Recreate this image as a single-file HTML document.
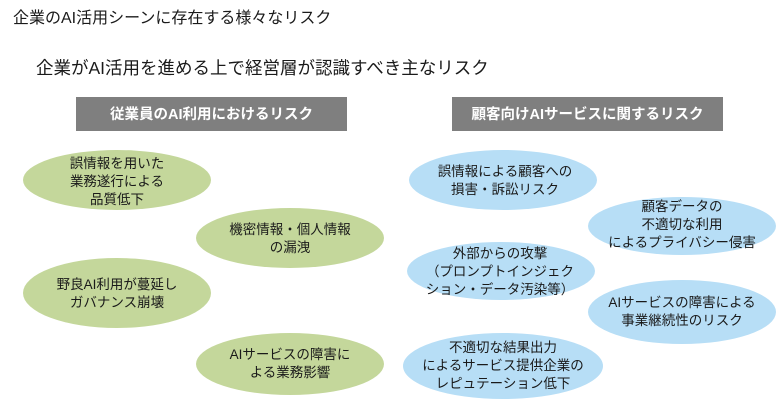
<!DOCTYPE html>
<html><head><meta charset="utf-8"><style>
body{margin:0;background:#fff;}
svg text{font-family:"Liberation Sans","Noto Sans CJK JP",sans-serif;fill:#1a1a1a;}
</style></head><body>
<svg width="780" height="407" xmlns="http://www.w3.org/2000/svg">
<rect width="780" height="407" fill="#fff"/>
<text x="13" y="23" font-size="16">企業のAI活用シーンに存在する様々なリスク</text>
<text x="36" y="74" font-size="17.5">企業がAI活用を進める上で経営層が認識すべき主なリスク</text>

<rect x="76" y="97" width="271" height="34" fill="#7f7f7f"/>
<text x="211.5" y="119" font-size="14.5" font-weight="bold" text-anchor="middle" style="fill:#fff">従業員のAI利用におけるリスク</text>
<rect x="452" y="97" width="271" height="34" fill="#7f7f7f"/>
<text x="587.5" y="119" font-size="14.5" font-weight="bold" text-anchor="middle" style="fill:#fff">顧客向けAIサービスに関するリスク</text>

<g fill="#c4d79b">
<ellipse cx="117" cy="180" rx="94" ry="30"/>
<ellipse cx="290" cy="238" rx="94" ry="30"/>
<ellipse cx="117" cy="293" rx="94" ry="35"/>
<ellipse cx="290" cy="364" rx="94" ry="31"/>
</g>
<g fill="#b7def6">
<ellipse cx="503" cy="180" rx="94" ry="30"/>
<ellipse cx="682" cy="226" rx="94" ry="29"/>
<ellipse cx="501" cy="271" rx="94" ry="29"/>
<ellipse cx="682" cy="312" rx="94" ry="32"/>
<ellipse cx="503" cy="366" rx="100" ry="33"/>
</g>

<g font-size="13.5" text-anchor="middle">
<text x="117" y="168">誤情報を用いた</text>
<text x="117" y="186">業務遂行による</text>
<text x="117" y="204">品質低下</text>
<text x="290" y="234">機密情報・個人情報</text>
<text x="290" y="252">の漏洩</text>
<text x="117" y="289">野良AI利用が蔓延し</text>
<text x="117" y="307">ガバナンス崩壊</text>
<text x="290" y="359">AIサービスの障害に</text>
<text x="290" y="377">よる業務影響</text>

<text x="505" y="176">誤情報による顧客への</text>
<text x="505" y="194">損害・訴訟リスク</text>
<text x="682" y="211">顧客データの</text>
<text x="682" y="229">不適切な利用</text>
<text x="682" y="247">によるプライバシー侵害</text>
<text x="500" y="258">外部からの攻撃</text>
<text x="500" y="276">（プロンプトインジェク</text>
<text x="500" y="294">ション・データ汚染等）</text>
<text x="682" y="307">AIサービスの障害による</text>
<text x="682" y="325">事業継続性のリスク</text>
<text x="503" y="352">不適切な結果出力</text>
<text x="503" y="370">によるサービス提供企業の</text>
<text x="503" y="388">レピュテーション低下</text>
</g>
</svg>
</body></html>
